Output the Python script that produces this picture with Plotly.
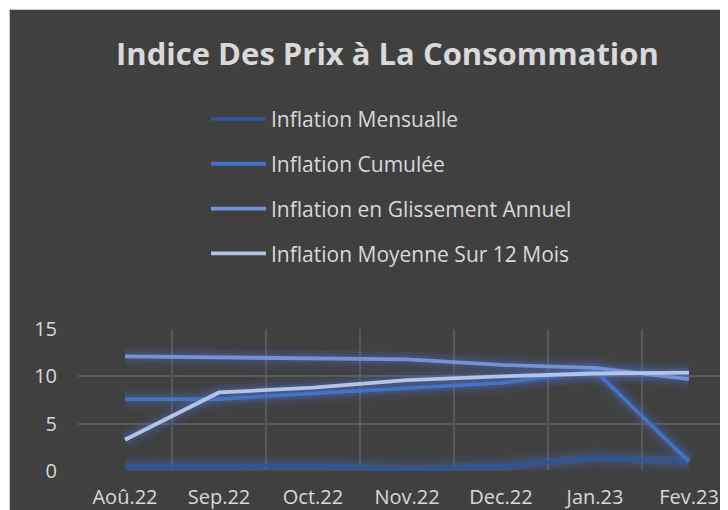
import plotly.graph_objects as go

# ---- data ----
categories = ["Aoû.22", "Sep.22", "Oct.22", "Nov.22", "Dec.22", "Jan.23", "Fev.23"]
mensualle = [0.45, 0.45, 0.6, 0.2, 0.5, 1.4, 1.0]
cumulee = [7.6, 7.6, 8.2, 8.8, 9.3, 10.6, 1.0]
glissement = [12.1, 12.0, 11.9, 11.8, 11.2, 10.9, 9.7]
moyenne = [3.3, 8.3, 8.8, 9.6, 10.0, 10.3, 10.4]
series_names = ["Inflation Mensualle", "Inflation Cumulée",
                "Inflation en Glissement Annuel", "Inflation Moyenne Sur 12 Mois"]
y_ticks = [0, 5, 10, 15]

# ---- style ----
W, H = 728, 510
BG = "#404040"
TXT = "#d9d9d9"
GRID = "#595959"
colors = ["#2f5597", "#4472c4", "#7392d6", "#b4c4e8"]
FONT = "Open Sans"

# plot area in figure pixels (page body adds an 8px offset)
PL, PR, PT, PB = 70, 728, 321.3, 463

fig = go.Figure()
all_series = [mensualle, cumulee, glissement, moyenne]

# glow layers
for vals in all_series:
    for w, a in [(22, 0.07), (15, 0.10), (9, 0.15)]:
        fig.add_trace(go.Scatter(
            x=categories, y=vals, mode="lines",
            line=dict(color=f"rgba(80,120,210,{a})", width=w),
            hoverinfo="skip", showlegend=False))

for i, (name, vals) in enumerate(zip(series_names, all_series)):
    fig.add_trace(go.Scatter(
        x=categories, y=vals, mode="lines", name=name,
        legendgroup=f"g{i}",
        line=dict(color=colors[i], width=3.8)))

def fx(x):
    return (x - PL) / (PR - PL)

def fy(y):
    return (PB - y) / (PB - PT)

# chart area background
fig.add_shape(type="rect", xref="paper", yref="paper",
              x0=fx(1.5), x1=fx(760), y0=fy(2.5), y1=fy(530),
              fillcolor=BG, line=dict(color="#c8c8c8", width=1), layer="below")

fig.update_layout(
    width=W, height=H,
    paper_bgcolor="white", plot_bgcolor=BG,
    margin=dict(l=PL, r=W - PR, t=PT, b=H - PB, pad=0, autoexpand=False),
    font=dict(family=FONT, color=TXT, size=20),
    title=dict(text="<b>Indice Des Prix à La Consommation</b>",
               font=dict(family=FONT, size=31, color=TXT),
               x=379.5 / W, xref="container", xanchor="center",
               y=1 - 45.7 / H, yref="container", yanchor="middle"),
    showlegend=True,
    legend=dict(xref="container", yref="container",
                x=198 / W, xanchor="left", y=1 - 90.8 / H, yanchor="top",
                bgcolor="rgba(0,0,0,0)", font=dict(family=FONT, size=21, color=TXT),
                traceorder="grouped", tracegroupgap=14.5, itemwidth=55),
    xaxis=dict(type="category", categoryorder="array", categoryarray=categories,
               range=[-0.5, 6.5],
               tickson="boundaries", ticks="", showgrid=True, tickangle=0,
               gridcolor=GRID, gridwidth=1.5, showline=False, zeroline=False,
               ticklabelstandoff=12, tickfont=dict(size=20, color=TXT, family=FONT)),
    yaxis=dict(range=[0, 15], tickvals=y_ticks, ticks="",
               showgrid=True, gridcolor=GRID, gridwidth=1.5,
               zeroline=True, zerolinecolor=BG, zerolinewidth=2,
               showline=False, ticklabelstandoff=20,
               tickfont=dict(size=20, color=TXT, family=FONT)),
)

fig.write_html("out.html")
